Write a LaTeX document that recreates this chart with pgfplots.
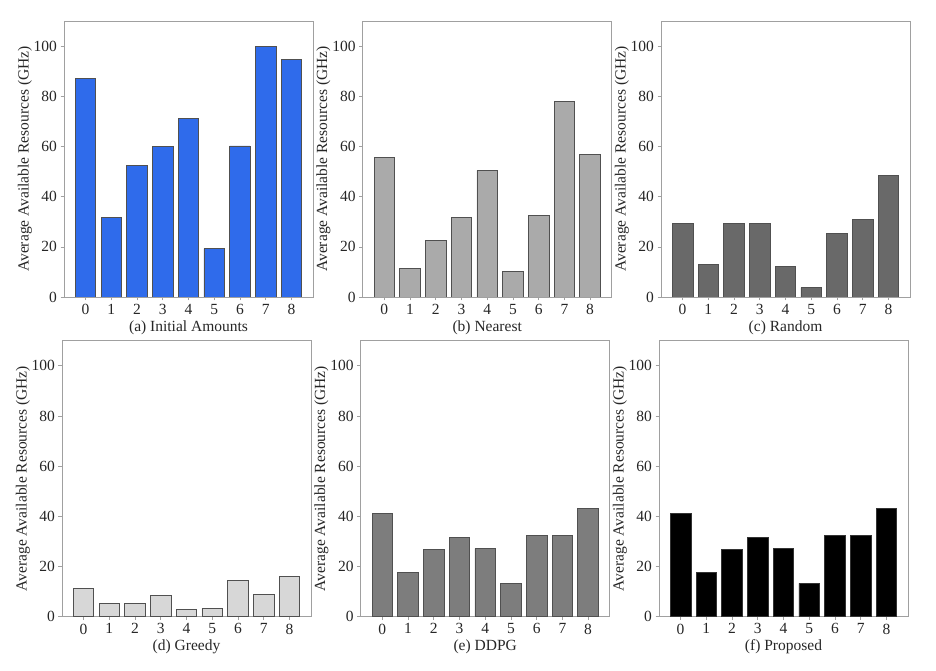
\documentclass[border=0pt]{standalone}
\usepackage{fontspec}
\setmainfont{Liberation Serif}
\usepackage{pgfplots}
\pgfplotsset{compat=1.18}

\definecolor{barblue}{HTML}{2F6BEB}
\definecolor{frame}{HTML}{A0A0A0}
\definecolor{edge}{HTML}{505050}

\pgfplotsset{
  panel/.style={
    scale only axis,
    width=249pt, height=276pt,
    anchor=south west,
    xmin=-0.84, xmax=8.84,
    ymin=0, ymax=110,
    xtick={0,...,8},
    ytick={0,20,...,100},
    tick align=outside,
    major tick length=3.5pt,
    tick style={frame, line width=0.6pt},
    axis line style={frame, line width=0.8pt},
    xtick pos=bottom, ytick pos=left,
    /pgf/number format/assume math mode=true,
    ticklabel style={font=\fontsize{15.5}{16}\selectfont, text=black!85},
    label style={font=\fontsize{15.5}{16}\selectfont, text=black!85},
    ylabel={Average Available Resources (GHz)},
    ylabel style={yshift=-5pt},
    xlabel style={yshift=1pt},
  },
  bars/.style={ybar, bar width=0.8, bar shift=0pt, draw=edge, line width=0.8pt},
}

\begin{document}
\begin{tikzpicture}
\path[use as bounding box] (0,0) rectangle (936pt,671pt);

% (a)
\begin{axis}[panel, at={(64pt,374pt)}, xlabel={(a) Initial Amounts}]
\addplot[bars, fill=barblue] coordinates {
  (0,87.0) (1,31.8) (2,52.3) (3,60.0) (4,71.2) (5,19.3) (6,60.2) (7,99.7) (8,94.8)
};
\end{axis}

% (b)
\begin{axis}[panel, at={(362.7pt,374pt)}, xlabel={(b) Nearest}]
\addplot[bars, fill={rgb,255:red,170;green,170;blue,170}] coordinates {
  (0,55.7) (1,11.3) (2,22.5) (3,31.7) (4,50.5) (5,10.3) (6,32.4) (7,77.8) (8,56.9)
};
\end{axis}

% (c)
\begin{axis}[panel, at={(661pt,374pt)}, xlabel={(c) Random}]
\addplot[bars, fill={rgb,255:red,105;green,105;blue,105}] coordinates {
  (0,29.4) (1,12.9) (2,29.3) (3,29.3) (4,12.0) (5,3.7) (6,25.2) (7,30.9) (8,48.3)
};
\end{axis}

% (d)
\begin{axis}[panel, at={(62pt,54.3pt)}, xlabel={(d) Greedy}]
\addplot[bars, fill={rgb,255:red,215;green,215;blue,215}] coordinates {
  (0,11.3) (1,5.3) (2,5.2) (3,8.4) (4,2.8) (5,3.3) (6,14.5) (7,8.9) (8,16.1)
};
\end{axis}

% (e)
\begin{axis}[panel, at={(360.7pt,54.3pt)}, xlabel={(e) DDPG}]
\addplot[bars, fill={rgb,255:red,125;green,125;blue,125}] coordinates {
  (0,41.1) (1,17.5) (2,26.8) (3,31.5) (4,27.1) (5,13.3) (6,32.4) (7,32.3) (8,43.1)
};
\end{axis}

% (f)
\begin{axis}[panel, at={(659pt,54.3pt)}, xlabel={(f) Proposed}]
\addplot[bars, fill=black, draw=black!80] coordinates {
  (0,41.1) (1,17.5) (2,26.8) (3,31.5) (4,27.1) (5,13.3) (6,32.4) (7,32.3) (8,43.1)
};
\end{axis}
\end{tikzpicture}
\end{document}
